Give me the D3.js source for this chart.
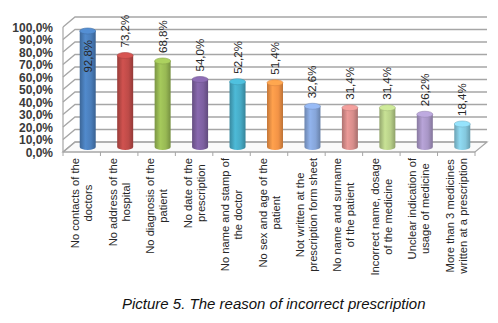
<!DOCTYPE html>
<html><head><meta charset="utf-8">
<script src="https://cdn.jsdelivr.net/npm/d3@7"></script>
<style>body{margin:0;background:#fff}svg{display:block}</style>
</head><body>
<svg id="c" width="498" height="323"></svg>
<script>
const categories = [
  ["No contacts of the","doctors"],
  ["No address of the","hospital"],
  ["No diagnosis of the","patient"],
  ["No date of the","prescription"],
  ["No name and stamp of","the doctor"],
  ["No sex and age of the","patient"],
  ["Not written at the","prescription form sheet"],
  ["No name and surname","of the patient"],
  ["Incorrect name, dosage","of the medicine"],
  ["Unclear indication of","usage of medicine"],
  ["More than 3 medicines","written at a prescription"]
];
const values = [92.8, 73.2, 68.8, 54.0, 52.2, 51.4, 32.6, 31.4, 31.4, 26.2, 18.4];
const colors = ["#4a7ebb","#be4b48","#98b954","#7d60a0","#46aac5","#f39346","#86a5d9","#d78d8b","#b7cf88","#a896c6","#84c8de"];
const yTicks = [0,10,20,30,40,50,60,70,80,90,100];
const caption = "Picture 5. The reason of incorrect prescription";

const fmt = v => d3.format(".1f")(v).replace(".", ",") + "%";
const svg = d3.select("#c");
const DX = 12, DY = -10;
const idx = d3.range(categories.length);
const x = d3.scaleBand().domain(idx).range([63, 475]);
const y = d3.scaleLinear().domain([0, 100]).range([152, 27]);

// floor
svg.append("path")
  .attr("d", `M${x.range()[0]},${y(0)}L${x.range()[1]},${y(0)}L${x.range()[1]+DX},${y(0)+DY}L${x.range()[0]+DX},${y(0)+DY}Z`)
  .attr("fill", "#fafafa").attr("stroke", "#a6a6a6").attr("stroke-width", 1.2);

// gridlines on back wall + side
const grid = svg.append("g");
yTicks.forEach(t => {
  const yy = y(t);
  grid.append("path")
    .attr("d", `M${x.range()[0]},${yy}L${x.range()[0]+DX},${yy+DY}L${x.range()[1]+DX},${yy+DY}`)
    .attr("fill", "none").attr("stroke", "#a6a6a6").attr("stroke-width", 1.3);
});
svg.append("line").attr("x1", 63).attr("x2", 63).attr("y1", y(100)).attr("y2", y(0))
  .attr("stroke", "#a6a6a6").attr("stroke-width", 1.2);
svg.append("line").attr("x1", 63).attr("x2", 475).attr("y1", y(0)).attr("y2", y(0))
  .attr("stroke", "#a6a6a6").attr("stroke-width", 1.2);
d3.range(categories.length + 1).forEach(i => {
  const xx = 63 + i * x.bandwidth();
  svg.append("line").attr("x1", xx).attr("x2", xx).attr("y1", y(0)).attr("y2", y(0) + 4)
    .attr("stroke", "#a6a6a6").attr("stroke-width", 1);
});

// y tick labels
svg.append("g").selectAll("text").data(yTicks).join("text")
  .attr("x", 53).attr("y", d => y(d) + 4.5)
  .attr("text-anchor", "end")
  .attr("font-family", "Arial, 'Liberation Sans', sans-serif")
  .attr("font-size", 12).attr("font-weight", "bold").attr("fill", "#3a3a3a")
  .text(d => fmt(d));

// gradients
const defs = svg.append("defs");
colors.forEach((c, i) => {
  const base = d3.color(c);
  const g = defs.append("linearGradient").attr("id", "g" + i).attr("x1", 0).attr("x2", 1).attr("y1", 0).attr("y2", 0);
  g.append("stop").attr("offset", "0%").attr("stop-color", base.darker(0.6));
  g.append("stop").attr("offset", "35%").attr("stop-color", base.brighter(0.25));
  g.append("stop").attr("offset", "70%").attr("stop-color", base);
  g.append("stop").attr("offset", "100%").attr("stop-color", base.darker(0.7));
});

// bars (cylinders)
const bw = 16, ry = 3;
const cx = i => x(i) + x.bandwidth() / 2 + DX / 2;
const yb = v => y(v) + DY / 2;
const bars = svg.append("g").selectAll("g").data(idx).join("g");
bars.append("path")
  .attr("d", i => {
    const l = cx(i) - bw / 2, r = cx(i) + bw / 2, top = yb(values[i]), bot = yb(0);
    return `M${l},${top}L${l},${bot}A${bw/2},${ry} 0 0 0 ${r},${bot}L${r},${top}Z`;
  })
  .attr("fill", i => `url(#g${i})`);
bars.append("ellipse")
  .attr("cx", i => cx(i)).attr("cy", i => yb(values[i]))
  .attr("rx", bw / 2).attr("ry", ry)
  .attr("fill", i => d3.color(colors[i]).brighter(0.35))
  .attr("stroke", i => d3.color(colors[i]).darker(0.3)).attr("stroke-width", 0.6);

// value labels
svg.append("g").selectAll("text").data(idx).join("text")
  .attr("transform", i => {
    const inside = values[i] > 90;
    const yy = inside ? yb(values[i]) + 9 : yb(values[i]) - 8;
    return `translate(${cx(i) + 4},${yy}) rotate(-90)`;
  })
  .attr("text-anchor", i => values[i] > 90 ? "end" : "start")
  .attr("font-family", "Arial, 'Liberation Sans', sans-serif")
  .attr("font-size", 11.5).attr("fill", "#262626")
  .text(i => fmt(values[i]));

// category labels
const lg = svg.append("g").attr("font-family", "Arial, 'Liberation Sans', sans-serif")
  .attr("font-size", 11.2).attr("fill", "#262626");
idx.forEach(i => {
  const g = lg.append("g").attr("transform", `translate(${x(i) + x.bandwidth() / 2},158) rotate(-90)`);
  const lines = categories[i];
  const ts = lines.map((s, k) => g.append("text").attr("text-anchor", "middle")
    .attr("y", (k - (lines.length - 1) / 2) * 13 + 4).text(s));
  const maxLen = d3.max(ts, t => t.node().getComputedTextLength());
  ts.forEach(t => t.attr("x", -maxLen / 2));
});

// caption
svg.append("text").attr("x", 122).attr("y", 309)
  .attr("font-family", "Arial, 'Liberation Sans', sans-serif")
  .attr("font-size", 15).attr("font-style", "italic").attr("fill", "#111")
  .text(caption);
</script>
</body></html>
